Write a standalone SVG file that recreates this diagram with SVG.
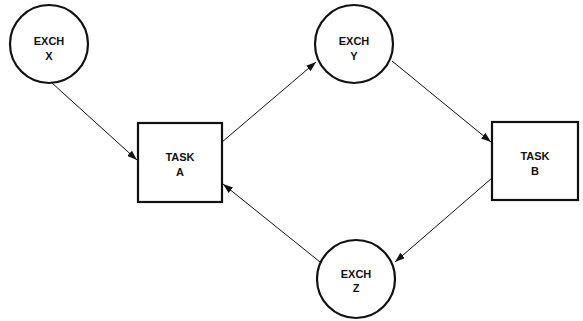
<svg xmlns="http://www.w3.org/2000/svg" width="583" height="321" viewBox="0 0 583 321">
<style>
.node{fill:#fff;stroke:#111;stroke-width:2.2}
.lbl{font-family:"Liberation Sans",Arial,sans-serif;font-weight:bold;font-size:11px;fill:#111;text-anchor:middle}
.conn{stroke:#111;stroke-width:1;fill:none;marker-end:url(#ah)}
</style>
<defs>
<marker id="ah" markerUnits="userSpaceOnUse" markerWidth="10" markerHeight="7" refX="10" refY="3.5" orient="auto">
<path d="M0,0 L10,3.5 L0,7 z" fill="#111"/>
</marker>
</defs>
<rect width="583" height="321" fill="#fff"/>
<g id="connectors">
<line class="conn" x1="52" y1="83" x2="137" y2="160"/>
<line class="conn" x1="222" y1="142" x2="316" y2="62"/>
<line class="conn" x1="392" y1="61" x2="491" y2="142"/>
<line class="conn" x1="492" y1="178" x2="395" y2="262"/>
<line class="conn" x1="320" y1="262" x2="223" y2="184"/>
</g>
<g id="exchX">
<circle class="node" cx="49" cy="44" r="39"/>
<text class="lbl" x="49" y="45">EXCH</text>
<text class="lbl" x="49" y="60">X</text>
</g>
<g id="taskA">
<rect class="node" x="138" y="123" width="84" height="79"/>
<text class="lbl" x="180" y="161">TASK</text>
<text class="lbl" x="180" y="176">A</text>
</g>
<g id="exchY">
<circle class="node" cx="354" cy="44" r="39"/>
<text class="lbl" x="354" y="45">EXCH</text>
<text class="lbl" x="354" y="60">Y</text>
</g>
<g id="taskB">
<rect class="node" x="492" y="122" width="86" height="78"/>
<text class="lbl" x="535" y="160">TASK</text>
<text class="lbl" x="535" y="175">B</text>
</g>
<g id="exchZ">
<circle class="node" cx="356" cy="279" r="39"/>
<text class="lbl" x="356" y="278">EXCH</text>
<text class="lbl" x="356" y="292">Z</text>
</g>
</svg>
